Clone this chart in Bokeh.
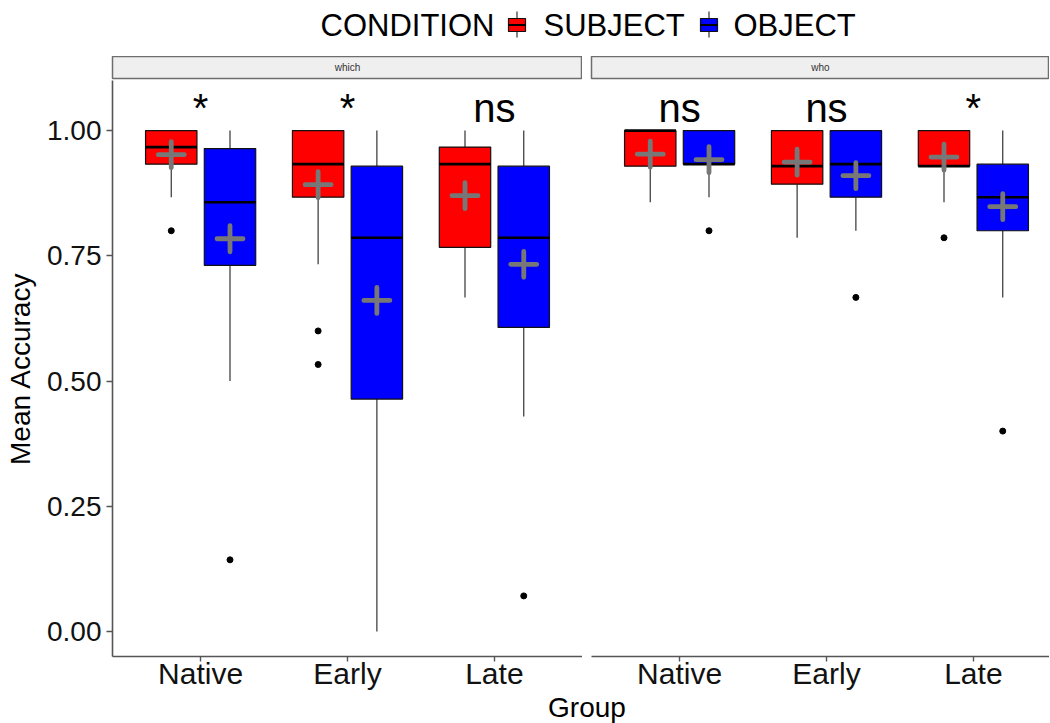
from bokeh.plotting import figure
from bokeh.layouts import column, row
from bokeh.models import Range1d, FixedTicker, ColumnDataSource, Label
from bokeh.core.properties import value
from bokeh.embed import file_html
from bokeh.resources import INLINE

FONT = "Liberation Sans"

groups = ["Native", "Early", "Late"]
conditions = ["SUBJECT", "OBJECT"]
cond_colors = ["#FF0000", "#0000FF"]
y_ticks = [0.0, 0.25, 0.50, 0.75, 1.00]

# ---- facet "which" ----
which_subject_lo = [0.867, 0.733, 0.667]
which_subject_q1 = [0.933, 0.867, 0.767]
which_subject_med = [0.967, 0.933, 0.933]
which_subject_q3 = [1.000, 1.000, 0.967]
which_subject_hi = [1.000, 1.000, 1.000]
which_subject_mean = [0.952, 0.892, 0.870]
which_subject_out_grp = ["Native", "Early", "Early"]
which_subject_out_val = [0.800, 0.600, 0.533]

which_object_lo = [0.500, 0.000, 0.429]
which_object_q1 = [0.731, 0.464, 0.607]
which_object_med = [0.857, 0.786, 0.786]
which_object_q3 = [0.964, 0.929, 0.929]
which_object_hi = [1.000, 1.000, 1.000]
which_object_mean = [0.784, 0.661, 0.733]
which_object_out_grp = ["Native", "Late"]
which_object_out_val = [0.143, 0.071]

which_sig = ["*", "*", "ns"]

# ---- facet "who" ----
who_subject_lo = [0.857, 0.786, 0.857]
who_subject_q1 = [0.929, 0.893, 0.929]
who_subject_med = [1.000, 0.929, 0.929]
who_subject_q3 = [1.000, 1.000, 1.000]
who_subject_hi = [1.000, 1.000, 1.000]
who_subject_mean = [0.953, 0.937, 0.947]
who_subject_out_grp = ["Late"]
who_subject_out_val = [0.786]

who_object_lo = [0.867, 0.800, 0.667]
who_object_q1 = [0.933, 0.867, 0.800]
who_object_med = [0.933, 0.933, 0.867]
who_object_q3 = [1.000, 1.000, 0.933]
who_object_hi = [1.000, 1.000, 1.000]
who_object_mean = [0.942, 0.910, 0.848]
who_object_out_grp = ["Native", "Early", "Late"]
who_object_out_val = [0.800, 0.667, 0.400]

who_sig = ["ns", "ns", "*"]

DODGE = 0.2
BOXW = 0.35
FRAME_W = 470
FRAME_H = 576
X0, X1 = 0.4, 3.6
LEFT_BORDER = 112
GAP = 9
BOTTOM_BORDER = 34


def make_panel(stats, sig, show_y, frame_w):
    x_end = X0 + (X1 - X0) * frame_w / FRAME_W
    p = figure(frame_width=frame_w, frame_height=FRAME_H,
               x_range=Range1d(X0, x_end), y_range=Range1d(-0.05, 1.10),
               output_backend="svg", toolbar_location=None,
               min_border_left=LEFT_BORDER if show_y else GAP, min_border_right=0,
               min_border_top=0, min_border_bottom=BOTTOM_BORDER)
    p.grid.visible = False
    p.outline_line_color = None
    p.background_fill_color = "white"
    p.border_fill_color = "white"

    for ci, (cond, color) in enumerate(zip(conditions, cond_colors)):
        lo, q1, med, q3, hi, mean, og, ov = stats[ci]
        off = -DODGE if ci == 0 else DODGE
        xs = [i + 1 + off for i in range(len(groups))]
        src = ColumnDataSource(dict(x=xs, lo=lo, q1=q1, med=med, q3=q3, hi=hi, mean=mean,
                                    xl=[x - BOXW / 2 for x in xs], xr=[x + BOXW / 2 for x in xs]))
        p.segment(x0="x", y0="q3", x1="x", y1="hi", source=src, line_color="#333333", line_width=1.2)
        p.segment(x0="x", y0="q1", x1="x", y1="lo", source=src, line_color="#333333", line_width=1.2)
        p.vbar(x="x", width=BOXW, bottom="q1", top="q3", source=src,
               fill_color=color, line_color="#111111", line_width=1.2)
        p.segment(x0="xl", y0="med", x1="xr", y1="med", source=src, line_color="black", line_width=2.6)
        ox = [groups.index(g) + 1 + off for g in og]
        p.scatter(x=ox, y=ov, size=6, color="black")
        p.scatter(x="x", y="mean", source=src, marker="cross", size=26,
                  line_color="#777777", line_width=4.8, line_cap="round")

    label_y = 1.046
    p.text(x=[i + 1 for i in range(len(groups))], y=[label_y] * len(groups), text=sig,
           text_font=value(FONT), text_font_size="40px", text_align="center",
           text_baseline="middle", text_color="black")

    ax = p.xaxis[0]
    ax.ticker = FixedTicker(ticks=[1, 2, 3])
    ax.major_label_overrides = {i + 1: g for i, g in enumerate(groups)}
    ax.axis_line_color = "#555555"
    ax.axis_line_width = 1.6
    ax.major_tick_line_color = "#555555"
    ax.major_tick_line_width = 1.4
    ax.major_tick_out = 5
    ax.major_tick_in = 0
    ax.minor_tick_out = 0
    ax.minor_tick_in = 0
    ax.major_label_text_font = FONT
    ax.major_label_text_font_size = "30px"
    ax.major_label_text_line_height = 1.0
    ax.major_label_text_color = "#111111"
    ax.major_label_standoff = -5

    ya = p.yaxis[0]
    if show_y:
        ya.ticker = FixedTicker(ticks=y_ticks)
        ya.major_label_overrides = {t: f"{t:.2f}" for t in y_ticks}
        ya.axis_line_color = "#555555"
        ya.axis_line_width = 1.6
        ya.major_tick_line_color = "#555555"
        ya.major_tick_line_width = 1.4
        ya.major_tick_out = 6
        ya.major_tick_in = 0
        ya.minor_tick_out = 0
        ya.minor_tick_in = 0
        ya.major_label_text_font = FONT
        ya.major_label_text_font_size = "28px"
        ya.major_label_text_color = "#111111"
        ya.major_label_standoff = 5
        ya.axis_label = "Mean Accuracy"
        ya.axis_label_text_font = FONT
        ya.axis_label_text_font_style = "normal"
        ya.axis_label_text_font_size = "28px"
        ya.axis_label_text_color = "black"
        ya.axis_label_standoff = 8
    else:
        ya.visible = False
    return p


def make_strip(name, show_y, frame_w):
    s = figure(frame_width=frame_w, frame_height=22, x_range=Range1d(0, 1), y_range=Range1d(0, 1),
               output_backend="svg", toolbar_location=None,
               min_border_left=LEFT_BORDER if show_y else GAP, min_border_right=0,
               min_border_top=0, min_border_bottom=2)
    s.axis.visible = False
    s.grid.visible = False
    s.background_fill_color = "#EFEFEF"
    s.border_fill_color = "white"
    s.outline_line_color = "#6E6E6E"
    s.outline_line_width = 1.5
    s.add_layout(Label(x=0.5, y=0.5, text=name, text_align="center", text_baseline="middle",
                       text_font=FONT, text_font_size="10px", text_color="#333333"))
    return s


which_stats = [
    (which_subject_lo, which_subject_q1, which_subject_med, which_subject_q3, which_subject_hi,
     which_subject_mean, which_subject_out_grp, which_subject_out_val),
    (which_object_lo, which_object_q1, which_object_med, which_object_q3, which_object_hi,
     which_object_mean, which_object_out_grp, which_object_out_val),
]
who_stats = [
    (who_subject_lo, who_subject_q1, who_subject_med, who_subject_q3, who_subject_hi,
     who_subject_mean, who_subject_out_grp, who_subject_out_val),
    (who_object_lo, who_object_q1, who_object_med, who_object_q3, who_object_hi,
     who_object_mean, who_object_out_grp, who_object_out_val),
]

RIGHT_W = 458
p1 = make_panel(which_stats, which_sig, True, FRAME_W)
p2 = make_panel(who_stats, who_sig, False, RIGHT_W)
s1 = make_strip("which", True, FRAME_W)
s2 = make_strip("who", False, RIGHT_W)

# ---- legend header ----
TOTAL_W = LEFT_BORDER + FRAME_W + GAP + RIGHT_W
HDR_H = 56
hdr = figure(width=TOTAL_W, height=HDR_H, x_range=Range1d(0, TOTAL_W), y_range=Range1d(HDR_H, 0),
             output_backend="svg", toolbar_location=None,
             min_border_left=0, min_border_right=0, min_border_top=0, min_border_bottom=0)
hdr.axis.visible = False
hdr.grid.visible = False
hdr.outline_line_color = None
mid = 24.5
hdr.text(x=[320], y=[mid], text=["CONDITION"], text_font=value(FONT), text_font_size="31px",
         text_baseline="middle", text_align="left", text_color="black")
key_x = [516.5, 708.5]
lab_x = [543, 733]
for kx, lx, cond, color in zip(key_x, lab_x, conditions, cond_colors):
    hdr.segment(x0=[kx], y0=[11], x1=[kx], y1=[37], line_color="#333333", line_width=1.2)
    hdr.quad(left=[kx - 8.5], right=[kx + 8.5], top=[18], bottom=[31],
             fill_color=color, line_color="#111111", line_width=1.2)
    hdr.segment(x0=[kx - 8.5], y0=[24.5], x1=[kx + 8.5], y1=[24.5], line_color="black", line_width=2)
    hdr.text(x=[lx], y=[mid], text=[cond], text_font=value(FONT), text_font_size="31px",
             text_baseline="middle", text_align="left", text_color="black")

# ---- footer (x axis title) ----
FTR_H = 33
ftr = figure(width=TOTAL_W, height=FTR_H, x_range=Range1d(0, TOTAL_W), y_range=Range1d(FTR_H, 0),
             output_backend="svg", toolbar_location=None,
             min_border_left=0, min_border_right=0, min_border_top=0, min_border_bottom=0)
ftr.axis.visible = False
ftr.grid.visible = False
ftr.outline_line_color = None
ftr.text(x=[LEFT_BORDER + (FRAME_W * 2 + GAP) / 2], y=[14.5], text=["Group"], text_font=value(FONT),
         text_font_size="28px", text_baseline="middle", text_align="center", text_color="black")

layout = column(hdr, row(column(s1, p1), column(s2, p2)), ftr)

open("out.html", "w").write(file_html(layout, INLINE))
